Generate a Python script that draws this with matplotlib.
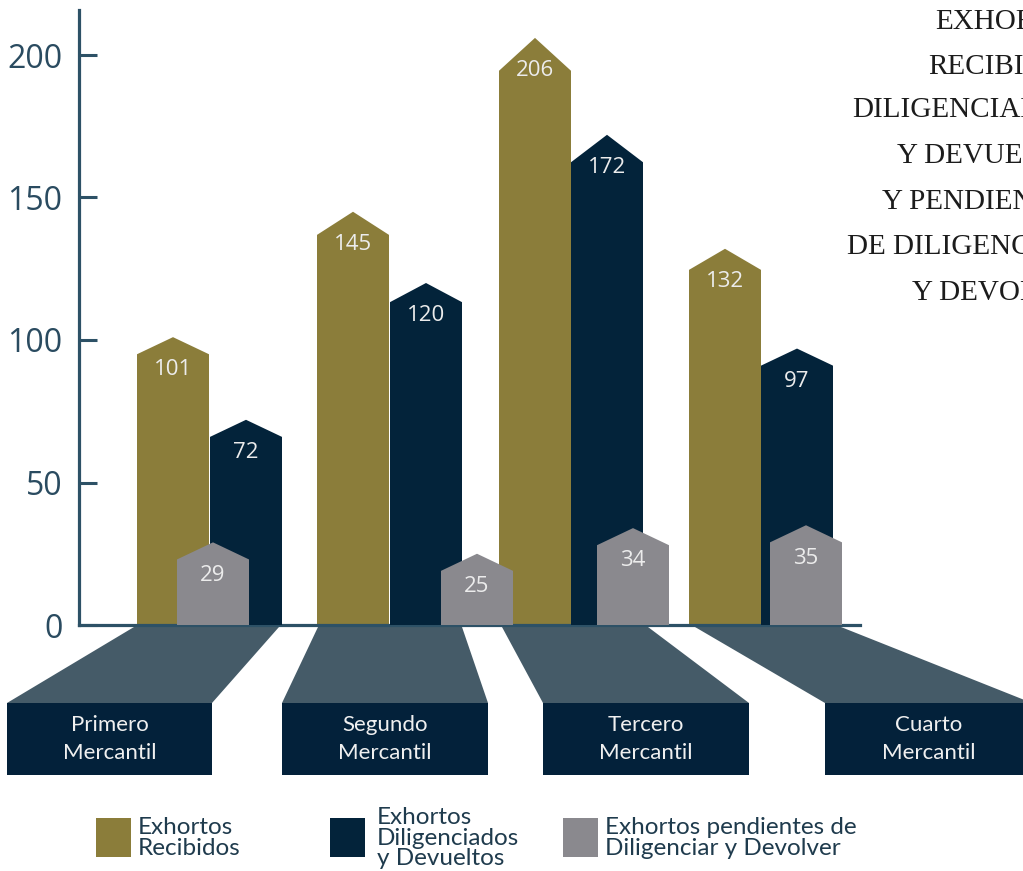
import matplotlib
matplotlib.use("Agg")
import matplotlib.pyplot as plt
from matplotlib.patches import Polygon, Rectangle

# ---------------- data ----------------
categories = ["Primero\nMercantil", "Segundo\nMercantil", "Tercero\nMercantil", "Cuarto\nMercantil"]
recibidos = [101, 145, 206, 132]
diligenciados = [72, 120, 172, 97]
pendientes = [29, 25, 34, 35]
series_names = ["Exhortos\nRecibidos",
                "Exhortos\nDiligenciados\ny Devueltos",
                "Exhortos pendientes de\nDiligenciar y Devolver"]
yticks = [0, 50, 100, 150, 200]
title_lines = ["EXHORTOS", "RECIBIDOS,", "DILIGENCIADOS", "Y DEVUELTOS",
               "Y PENDIENTES", "DE DILIGENCIAR", "Y DEVOLVER"]

# ---------------- style / layout ----------------
GOLD = "#8b7d3a"
NAVY = "#03233a"
GRAY = "#8a898e"
SLATE = "#455b68"
BOX = "#03213a"
AXC = "#2d5166"
TICKC = "#2a4b60"

W, H = 1023, 871
fig = plt.figure(figsize=(W / 100, H / 100), dpi=100)

deco = fig.add_axes([0, 0, 1, 1])
deco.set_xlim(0, W)
deco.set_ylim(H, 0)
deco.axis("off")

x0, x1, ytop, ybase = 79, 860, 10, 625
PXU = 2.85  # pixels per value unit
ax = fig.add_axes([x0 / W, (H - ybase) / H, (x1 - x0) / W, (ybase - ytop) / H])
ax.set_xlim(x0, x1)
ax.set_ylim(0, (ybase - ytop) / PXU)
ax.patch.set_alpha(0)
for s in ["top", "right"]:
    ax.spines[s].set_visible(False)
for s in ["left", "bottom"]:
    ax.spines[s].set_color(AXC)
    ax.spines[s].set_linewidth(2.3)
ax.set_xticks([])
ax.set_yticks(yticks)
ax.set_yticklabels([str(t) for t in yticks])
ax.tick_params(axis="y", direction="in", length=13, width=2.2, color=AXC,
               labelsize=23, labelcolor=TICKC, pad=12)
for lab in ax.get_yticklabels():
    lab.set_family("Open Sans")

BW = 72
gold_left = [137, 317, 499, 689]
navy_left = [210, 390, 571, 761]
gray_left = [177, 441, 597, 770]


def house(left, v, color, z):
    r = max(0.056 * v, 6.0)
    pts = [(left, 0), (left, v - r), (left + BW / 2, v), (left + BW, v - r), (left + BW, 0)]
    ax.add_patch(Polygon(pts, closed=True, fc=color, ec="none", zorder=z))
    ax.text(left + BW / 2, v - 11.5, str(v), ha="center", va="center",
            color="#ececec", fontsize=16, family="Open Sans", zorder=z + 0.5)


for i in range(len(categories)):
    house(gold_left[i], recibidos[i], GOLD, 2)
    house(navy_left[i], diligenciados[i], NAVY, 3)
    house(gray_left[i], pendientes[i], GRAY, 4)

# ---------------- base trapezoids and category boxes ----------------
traps = [
    [(134, 627), (279, 627), (212, 703), (7, 703)],
    [(318, 627), (462, 627), (488, 703), (282, 703)],
    [(502, 627), (648, 627), (749, 703), (543, 703)],
    [(695, 627), (841, 627), (1032, 703), (825, 703)],
]
boxes = [(7, 212), (282, 488), (543, 749), (825, 1032)]
for i, (tr, (bl, br)) in enumerate(zip(traps, boxes)):
    deco.add_patch(Polygon(tr, closed=True, fc=SLATE, ec="none"))
    deco.add_patch(Rectangle((bl, 703), br - bl, 72, fc=BOX, ec="none"))
    cx = (bl + br) / 2
    deco.text(cx, 739, categories[i], ha="center", va="center", color="#f0f0f0",
              fontsize=16, family="Lato", linespacing=1.55)

# ---------------- legend ----------------
leg_sq = [96, 330, 563]
leg_tx = [138, 377, 605]
leg_col = [GOLD, NAVY, GRAY]
for sx, tx, c, name in zip(leg_sq, leg_tx, leg_col, series_names):
    deco.add_patch(Rectangle((sx, 818), 35, 39, fc=c, ec="none"))
    deco.text(tx, 838, name, ha="left", va="center", color="#1f3b4d",
              fontsize=17.5, family="Lato", linespacing=0.98)

# ---------------- title (cut by the right edge, as in the original) ----------------
title_x = [935, 928, 852, 897, 882, 847, 912]
title_y = [22, 66, 110, 156, 202, 247, 293]
for t, tx, ty in zip(title_lines, title_x, title_y):
    deco.text(tx, ty, t, ha="left", va="center", fontsize=21,
              family="Liberation Serif", color="#1c1c1c")

fig.savefig("out.png", dpi=100)
